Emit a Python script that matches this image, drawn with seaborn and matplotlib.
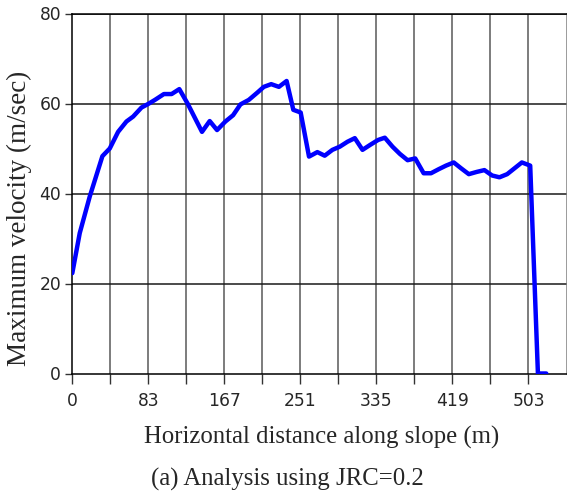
import numpy as np
import pandas as pd
import matplotlib
matplotlib.use('Agg')
import matplotlib.pyplot as plt
import seaborn as sns

# Valores (distância horizontal em m, velocidade máxima em m/s)
distancia = [0, 8.2, 19.2, 33.2, 41.3, 50.5, 59.7, 67.1, 76.3, 83.7, 91.1, 101, 109.5, 118,
             127.1, 143, 151.5, 159.6, 168.8, 177.3, 185.4, 194.6, 203.9, 211.2, 219.3, 227.8,
             236.3, 243.7, 251.8, 261, 270.2, 278.3, 286.8, 294.9, 303.4, 311.5, 320, 328.4,
             337.2, 344.6, 353.1, 361.2, 369.7, 378.1, 387.4, 395.5, 404, 412.1, 420.6, 428.7,
             437.2, 446, 454.4, 462.9, 471, 479.5, 487.6, 495.7, 504.9, 513.4, 522.6]
velocidade = [22.3, 31.2, 39.3, 48.3, 50.0, 53.7, 56.0, 57.1, 59.1, 59.9, 60.8, 62.1, 62.1, 63.2,
              60.0, 53.7, 56.1, 54.1, 56.0, 57.4, 59.8, 60.8, 62.4, 63.7, 64.3, 63.7,
              65.0, 58.6, 58.0, 48.2, 49.2, 48.4, 49.7, 50.4, 51.5, 52.3, 49.7, 50.8,
              51.9, 52.4, 50.4, 48.8, 47.4, 47.8, 44.5, 44.5, 45.4, 46.2, 46.9, 45.6,
              44.3, 44.8, 45.2, 44.0, 43.6, 44.3, 45.6, 46.9, 46.2, 0.0, 0.0]

passo_x = 503 / 12
ticks_x = [passo_x * i for i in range(13)]
rotulos_x = ['0', '', '83', '', '167', '', '251', '', '335', '', '419', '', '503']
ticks_y = [0, 20, 40, 60, 80]

df = pd.DataFrame({'Distancia': distancia, 'Velocidade': velocidade})

sns.set_style('white')
plt.rcParams['font.family'] = ['DejaVu Sans']

fig = plt.figure(figsize=(5.67, 4.96), dpi=100)
ax = fig.add_axes([72.3 / 567, 122.5 / 496, (566.5 - 72.3) / 567, (373.5 - 13.5) / 496])

sns.lineplot(data=df, x='Distancia', y='Velocidade', ax=ax, color='#0000ff',
             linewidth=3.2, sort=False, zorder=3)

ax.set_xlim(0, passo_x * 13)
ax.set_ylim(0, 80)
ax.set_xticks(ticks_x)
ax.set_xticklabels(rotulos_x)
ax.set_yticks(ticks_y)
ax.set_yticklabels([str(v) for v in ticks_y])

# grade
for xv in ticks_x[1:]:
    ax.axvline(xv, color='0.35', linewidth=1.1, zorder=1)
for yv in ticks_y[1:]:
    ax.axhline(yv, color='0.1', linewidth=1.1, zorder=1)

for s in ax.spines.values():
    s.set_color('black')
    s.set_linewidth(1.1)
ax.spines['right'].set_color('0.5')

ax.tick_params(axis='x', direction='out', length=7, width=1, color='0.2',
               labelsize=12.3, pad=6, bottom=True)
ax.tick_params(axis='y', direction='out', length=5, width=1, color='0.2',
               labelsize=12.3, pad=3, left=True)

serif = ['Liberation Serif', 'DejaVu Serif']
ax.set_xlabel('Horizontal distance along slope (m)', fontsize=17.8, family=serif)
ax.set_ylabel('Maximum velocity (m/sec)', fontsize=19.5, family=serif)
ax.xaxis.set_label_coords(0.505, -0.179)
ax.xaxis.label.set_va('center')
ax.yaxis.set_label_coords(-0.106, 0.43)
ax.yaxis.label.set_va('center')
fig.text(287 / 567, 1 - 479 / 496, '(a) Analysis using JRC=0.2', fontsize=17.8,
         family=serif, ha='center', va='center')

plt.savefig('out.png', dpi=100)
plt.close()
